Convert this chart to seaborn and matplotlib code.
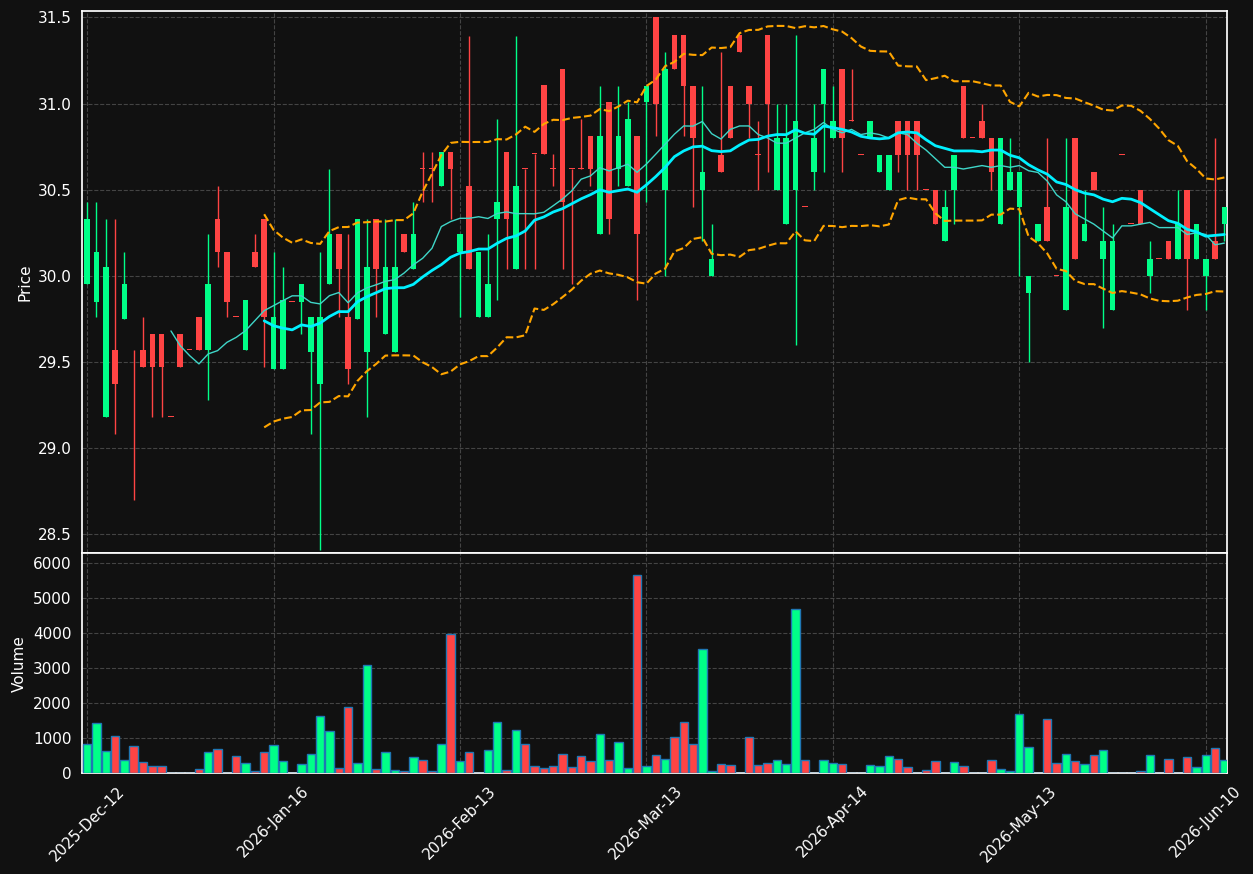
import numpy as np
import pandas as pd
import matplotlib
matplotlib.use("Agg")
import matplotlib.pyplot as plt
import seaborn as sns

opens = [29.95,29.85,29.18,29.57,29.75,29.37,29.57,29.66,29.66,29.18,
         29.66,29.57,29.76,29.57,30.33,30.14,29.76,29.57,30.14,30.33,
         29.46,29.46,29.85,29.85,29.56,29.37,29.95,30.24,29.76,29.75,
         29.56,30.33,29.66,29.56,30.24,30.04,30.62,30.62,30.52,30.72,
         30.14,30.52,29.76,29.76,30.33,30.72,30.04,30.62,30.71,31.11,
         30.62,31.20,30.62,30.62,30.81,30.24,31.01,30.62,30.52,30.81,
         31.01,31.50,30.50,31.40,31.40,31.10,30.50,30.00,30.70,31.10,
         31.40,31.10,30.70,31.40,30.50,30.30,30.50,30.40,30.60,31.00,
         30.80,31.20,30.90,30.70,30.80,30.60,30.50,30.90,30.90,30.90,
         30.50,30.50,30.20,30.50,31.10,30.80,30.90,30.80,30.30,30.50,
         30.40,29.90,30.20,30.40,30.00,29.80,30.80,30.20,30.60,30.10,
         29.80,30.70,30.30,30.50,30.00,30.10,30.20,30.10,30.50,30.10,
         30.00,30.20,30.30]
closes = [30.33,30.14,30.05,29.37,29.95,29.37,29.47,29.47,29.47,29.18,
          29.47,29.57,29.57,29.95,30.14,29.85,29.76,29.86,30.05,29.76,
          29.76,29.86,29.85,29.95,29.76,29.76,30.24,30.04,29.46,30.33,
          30.05,30.04,30.05,30.05,30.14,30.24,30.62,30.62,30.72,30.62,
          30.24,30.04,30.14,29.95,30.43,30.33,30.52,30.62,30.71,30.71,
          30.62,30.43,30.62,30.62,30.62,30.81,30.33,30.81,30.91,30.24,
          31.10,31.00,31.20,31.20,31.10,30.80,30.60,30.10,30.60,30.80,
          31.30,31.00,30.70,31.00,30.80,30.80,30.90,30.40,30.80,31.20,
          30.90,30.80,30.90,30.70,30.90,30.70,30.70,30.70,30.70,30.70,
          30.50,30.30,30.40,30.70,30.80,30.80,30.80,30.60,30.80,30.60,
          30.60,30.00,30.30,30.20,30.00,30.40,30.10,30.30,30.50,30.20,
          30.20,30.70,30.30,30.30,30.10,30.10,30.10,30.30,30.10,30.30,
          30.10,30.10,30.40]
highs = [30.43,30.43,30.33,30.33,30.14,29.57,29.76,29.66,29.66,29.18,
         29.66,29.57,29.76,30.24,30.52,30.14,29.76,29.86,30.24,30.33,
         30.14,30.05,29.85,29.95,29.76,30.14,30.62,30.24,30.24,30.33,
         30.33,30.33,30.33,30.33,30.24,30.43,30.72,30.72,30.72,30.72,
         30.24,31.39,30.14,30.24,30.91,30.72,31.39,30.62,30.71,31.11,
         30.71,31.20,30.62,30.91,30.81,31.10,31.01,31.10,31.01,30.81,
         31.10,31.50,31.30,31.40,31.40,31.10,31.10,30.30,31.30,31.10,
         31.40,31.10,30.90,31.40,31.00,31.00,31.40,30.40,31.00,31.20,
         31.10,31.20,31.20,30.70,30.90,30.70,30.70,30.90,30.90,30.90,
         30.50,30.50,30.50,30.70,31.10,30.80,31.00,30.80,30.80,30.80,
         30.60,30.00,30.30,30.80,30.00,30.80,30.80,30.50,30.60,30.40,
         30.30,30.70,30.30,30.50,30.20,30.10,30.20,30.50,30.50,30.30,
         30.10,30.80,30.40]
lows = [29.95,29.76,29.18,29.08,29.75,28.70,29.47,29.18,29.18,29.18,
        29.47,29.57,29.57,29.28,30.05,29.76,29.76,29.57,30.05,29.47,
        29.46,29.46,29.85,29.66,29.08,28.41,29.95,29.76,29.37,29.75,
        29.18,29.76,29.66,29.56,30.14,30.04,30.43,30.43,30.52,30.33,
        29.76,30.04,29.76,29.76,29.86,30.04,30.04,30.04,30.04,30.71,
        30.52,30.04,29.95,30.62,30.52,30.24,30.24,30.52,30.52,29.86,
        30.43,30.81,30.00,31.20,30.81,30.40,30.20,30.00,30.60,30.80,
        31.30,30.80,30.50,30.60,30.50,30.30,29.60,30.40,30.50,30.60,
        30.80,30.60,30.90,30.70,30.80,30.60,30.50,30.60,30.50,30.50,
        30.50,30.30,30.20,30.30,30.80,30.80,30.80,30.50,30.30,30.50,
        30.00,29.50,30.20,30.20,30.00,29.80,30.10,30.20,30.50,29.70,
        29.80,30.70,30.30,30.30,29.90,30.10,30.10,30.10,29.80,30.10,
        29.80,30.10,30.20]
volumes = [820,1430,620,1050,360,765,305,210,210,10,
           10,10,105,590,680,10,480,280,50,590,
           795,335,0,250,535,1630,1205,135,1885,280,
           3090,105,595,75,50,450,365,50,825,3950,
           335,595,0,650,1455,75,1225,820,210,135,
           190,535,165,480,335,1110,365,880,135,5650,
           190,510,390,1025,1455,820,3520,50,250,220,
           10,1025,220,280,365,250,4670,365,10,365,
           280,250,10,0,220,190,480,390,165,0,
           75,335,10,305,190,0,10,365,105,50,
           1685,735,0,1540,280,535,335,250,510,650,
           10,0,10,50,510,0,390,10,450,165,
           510,710,365]
vol_up = [1,1,1,0,1,0,0,0,0,1, 1,1,0,1,0,1,0,1,0,0,
          1,1,1,1,1,1,1,0,0,1, 1,0,1,1,0,1,0,0,1,0,
          1,0,1,1,1,0,1,0,0,0, 0,0,0,0,0,1,0,1,1,0,
          1,0,1,0,0,0,1,1,0,0, 1,0,0,0,1,1,1,0,1,1,
          1,0,1,1,1,1,1,0,0,1, 0,0,1,1,0,1,1,0,1,1,
          1,1,1,0,0,1,0,1,0,1, 1,1,1,0,1,1,0,1,0,1,
          1,0,1]
tick_pos = [0, 20, 40, 60, 80, 100, 120]
tick_labels = ["2025-Dec-12", "2026-Jan-16", "2026-Feb-13", "2026-Mar-13",
               "2026-Apr-14", "2026-May-13", "2026-Jun-10"]

BG = "#111111"
UP = "#00ff88"
DN = "#ff4444"

sns.set_theme(style="darkgrid")
plt.rcParams.update({
    "figure.facecolor": BG, "axes.facecolor": BG, "axes.edgecolor": "white",
    "text.color": "white", "axes.labelcolor": "white",
    "xtick.color": "white", "ytick.color": "white",
    "grid.color": "#444444", "grid.linestyle": "--", "grid.linewidth": 0.8,
})

df = pd.DataFrame({"idx": np.arange(len(closes)), "open": opens, "close": closes,
                   "high": highs, "low": lows, "volume": volumes, "vup": vol_up})
df["ma10"] = df["close"].rolling(10).mean()
df["ma20"] = df["close"].rolling(20).mean()
sd = df["close"].rolling(20).std(ddof=0)
df["upper"] = df["ma20"] + 2 * sd
df["lower"] = df["ma20"] - 2 * sd

fig = plt.figure(figsize=(12.53, 8.74), dpi=100)
ax1 = fig.add_axes([0.0654, 0.367, 0.914, 0.620])
ax2 = fig.add_axes([0.0654, 0.1156, 0.914, 0.2514], sharex=ax1)

up = df["close"] > df["open"]
cols = np.where(up, UP, DN)
ax1.vlines(df["idx"], df["low"], df["high"], colors=cols, linewidth=1, zorder=2)
bottoms = np.minimum(df["open"], df["close"])
heights = np.abs(df["close"] - df["open"])
heights = np.where(heights < 0.005, 0.005, heights)
ax1.bar(df["idx"], heights, bottom=bottoms, width=0.6, color=cols, linewidth=0, zorder=3)

sns.lineplot(data=df, x="idx", y="ma10", ax=ax1, color="#3fd6c8", linewidth=1, zorder=4)
sns.lineplot(data=df, x="idx", y="ma20", ax=ax1, color="#00f0ff", linewidth=2, zorder=4)
sns.lineplot(data=df, x="idx", y="upper", ax=ax1, color="orange", linewidth=1.5, linestyle="--", zorder=4)
sns.lineplot(data=df, x="idx", y="lower", ax=ax1, color="orange", linewidth=1.5, linestyle="--", zorder=4)

ax1.set_ylim(28.39, 31.535)
ax1.set_xlim(-0.55, 122.3)
ax1.set_ylabel("Price", fontsize=11)
ax1.set_xlabel("")
ax1.tick_params(axis="x", labelbottom=False, length=0)
ax1.tick_params(axis="y", labelsize=11, length=4)

vcols = np.where(df["vup"] == 1, UP, DN)
ax2.bar(df["idx"], df["volume"], width=0.9, color=vcols, edgecolor="#1f77b4", linewidth=1, zorder=3)
ax2.set_ylim(0, 6264)
ax2.set_yticks([0, 1000, 2000, 3000, 4000, 5000, 6000])
ax2.set_ylabel("Volume", fontsize=11)
ax2.set_xticks(tick_pos)
ax2.set_xticklabels(tick_labels, rotation=45, ha="center", fontsize=11)
ax2.tick_params(axis="both", labelsize=11, length=4)
ax2.set_xlabel("")

for a in (ax1, ax2):
    for s in a.spines.values():
        s.set_color("white")
        s.set_visible(True)
    a.grid(True, color="#444444", linestyle="--", linewidth=0.8)

fig.savefig("out.png", dpi=100, facecolor=BG)
